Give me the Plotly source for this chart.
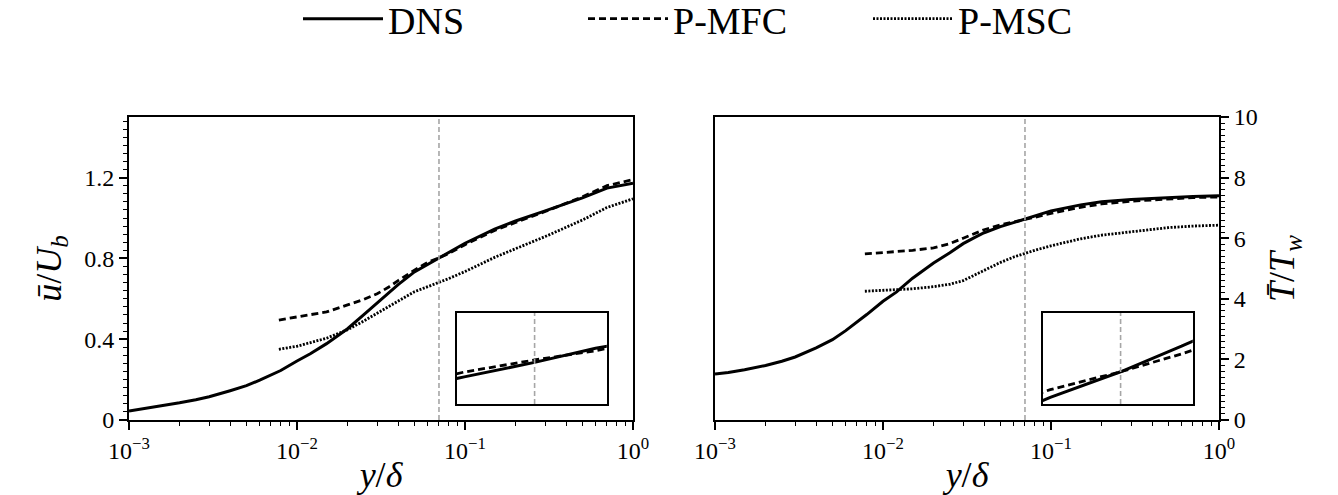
import math
import plotly.graph_objects as go

# Wall-normal coordinate grids
y_dns = [0.001, 0.0012, 0.0015, 0.002, 0.0025, 0.003, 0.004, 0.005, 0.006, 0.007,
         0.008, 0.01, 0.012, 0.015, 0.02, 0.025, 0.03, 0.035, 0.04, 0.05, 0.06,
         0.07, 0.08, 0.1, 0.15, 0.2, 0.3, 0.5, 0.7, 1.0]
y_model = [0.0078, 0.01, 0.015, 0.02, 0.025, 0.03, 0.035, 0.04, 0.05, 0.06, 0.07,
           0.08, 0.1, 0.15, 0.2, 0.3, 0.5, 0.7, 1.0]

# Mean streamwise velocity, u/U_b
u_dns = [0.045, 0.055, 0.068, 0.085, 0.1, 0.115, 0.145, 0.17, 0.197, 0.222,
         0.245, 0.292, 0.328, 0.378, 0.452, 0.522, 0.578, 0.627, 0.67, 0.733, 0.770,
         0.80, 0.829, 0.875, 0.945, 0.985, 1.035, 1.10, 1.148, 1.172]
u_mfc = [0.495, 0.51, 0.535, 0.57, 0.597, 0.625, 0.657, 0.69, 0.742, 0.78, 0.805,
         0.824, 0.868, 0.938, 0.978, 1.032, 1.105, 1.16, 1.19]
u_msc = [0.35, 0.365, 0.405, 0.447, 0.49, 0.528, 0.56, 0.59, 0.635, 0.66, 0.68,
         0.70, 0.735, 0.805, 0.848, 0.908, 0.99, 1.052, 1.095]

# Mean temperature, T/T_w
t_dns = [1.52, 1.57, 1.66, 1.8, 1.94, 2.08, 2.38, 2.65, 2.95, 3.22,
         3.48, 3.92, 4.22, 4.68, 5.18, 5.52, 5.82, 6.02, 6.18, 6.38, 6.52,
         6.62, 6.72, 6.9, 7.1, 7.2, 7.28, 7.35, 7.38, 7.4]
t_mfc = [5.48, 5.52, 5.6, 5.68, 5.82, 6.0, 6.15, 6.28, 6.44, 6.55, 6.62,
         6.69, 6.82, 7.02, 7.13, 7.22, 7.3, 7.34, 7.36]
t_msc = [4.25, 4.28, 4.33, 4.4, 4.48, 4.6, 4.78, 4.95, 5.2, 5.38, 5.5,
         5.6, 5.75, 5.98, 6.1, 6.22, 6.35, 6.4, 6.43]

series_names = ["DNS", "P-MFC", "P-MSC"]
y_interface = 0.07          # matching location marked by the grey line

# Axis ranges and ticks
u_range = [0.0, 1.5]
t_range = [0.0, 10.0]
inset_x = [0.059, 0.082]
inset_u = [0.714, 0.902]
inset_t = [6.494, 6.85]
u_ticks = [0, 0.4, 0.8, 1.2]
u_ticktext = ["0", "0.4", "0.8", "1.2"]
t_ticks = [0, 2, 4, 6, 8, 10]
x_ticks = [0.001, 0.01, 0.1, 1.0]
x_ticktext = ["10<sup>−3</sup>", "10<sup>−2</sup>", "10<sup>−1</sup>", "10<sup>0</sup>"]

# Minor tick positions: 2..9 within each decade, fine linear steps on y
x_minor = [k * 10.0 ** d for d in (-3, -2, -1) for k in range(2, 10)]
u_minor = [round(0.04 * i, 4) for i in range(0, 38) if i % 10 != 0]
t_minor = [round(0.2 * i, 4) for i in range(0, 51) if i % 10 != 0]

FONT = "Liberation Serif"
W, H = 1338, 495
# plot-area frame in pixels
L, R, T, B = 129, 1219, 117, 420
PW, PH = R - L, B - T
left_px = (129, 633)
right_px = (715, 1219)

def xdom(px):
    return [(px[0] - L) / PW, (px[1] - L) / PW]

def inset_dom(px):
    w = px[1] - px[0]
    return [(px[0] + 0.65 * w - L) / PW, (px[0] + 0.948 * w - L) / PW]

inset_ydom = [0.053, 0.353]

styles = [dict(color="black", width=3, dash="solid"),
          dict(color="black", width=2.8, dash="7px,4px"),
          dict(color="black", width=2.8, dash="2px,1.5px")]
grey = dict(color="#a6a6a6", width=1.6, dash="5px,3px")

fig = go.Figure()

def add_panel(xa, ya, ys, vals, show_legend, yr):
    for k, (xx, vv) in enumerate(zip(ys, vals)):
        fig.add_trace(go.Scatter(x=xx, y=vv, mode="lines", line=styles[k],
                                 name=series_names[k], showlegend=show_legend,
                                 xaxis=xa, yaxis=ya, hoverinfo="skip"))
    fig.add_trace(go.Scatter(x=[y_interface, y_interface], y=yr, mode="lines",
                             line=grey, showlegend=False, xaxis=xa, yaxis=ya,
                             hoverinfo="skip"))

model_x = [y_dns, y_model, y_model]
add_panel("x", "y", model_x, [u_dns, u_mfc, u_msc], True, u_range)
add_panel("x2", "y2", model_x, [t_dns, t_mfc, t_msc], False, t_range)
add_panel("x3", "y3", model_x, [u_dns, u_mfc, u_msc], False, inset_u)
add_panel("x4", "y4", model_x, [t_dns, t_mfc, t_msc], False, inset_t)

tickfont = dict(family=FONT, size=24, color="black")
titlefont = dict(family=FONT, size=36, color="black")

def minor_ticks(vals):
    return dict(tickmode="array", tickvals=vals, ticks="outside", ticklen=4,
                tickwidth=1.3, tickcolor="black", showgrid=False)

def xaxis(dom, anchor):
    return dict(type="log", domain=dom, anchor=anchor, range=[-3, 0],
                tickmode="array", tickvals=x_ticks, ticktext=x_ticktext,
                ticks="outside", ticklen=8, tickwidth=2, tickcolor="black",
                showline=True, linewidth=2, linecolor="black", mirror=True,
                showgrid=False, zeroline=False, tickfont=tickfont,
                automargin=False, minor=minor_ticks(x_minor),
                title=dict(text="<i>y</i>/<i>δ</i>", font=titlefont, standoff=2))

def yaxis(anchor, rng, ticks, minor, title, side, ticktext=None):
    d = dict(domain=[0, 1], anchor=anchor, side=side, range=rng,
             tickmode="array", tickvals=ticks, ticks="outside", ticklen=8,
             tickwidth=2, tickcolor="black", showline=True, linewidth=2,
             linecolor="black", mirror=True, showgrid=False, zeroline=False,
             tickfont=tickfont, automargin=False, minor=minor_ticks(minor),
             title=dict(text=title, font=titlefont, standoff=12))
    if ticktext is not None:
        d["ticktext"] = ticktext
    return d

def inset_axis(dom, anchor, rng, log):
    d = dict(domain=dom, anchor=anchor, range=rng, showticklabels=False,
             ticks="", showline=True, linewidth=1.8, linecolor="black",
             mirror=True, showgrid=False, zeroline=False, automargin=False)
    if log:
        d["type"] = "log"
    return d

inset_xr = [math.log10(inset_x[0]), math.log10(inset_x[1])]

fig.update_layout(
    width=W, height=H,
    margin=dict(l=L, r=W - R, t=T, b=H - B, autoexpand=False),
    paper_bgcolor="white", plot_bgcolor="white",
    xaxis=xaxis(xdom(left_px), "y"),
    xaxis2=xaxis(xdom(right_px), "y2"),
    yaxis=yaxis("x", u_range, u_ticks, u_minor,
                "<i>ū</i>/<i>U<sub>b</sub></i>", "left", u_ticktext),
    yaxis2=yaxis("x2", t_range, t_ticks, t_minor,
                 "<i>T̄</i>/<i>T<sub>w</sub></i>", "right"),
    xaxis3=inset_axis(inset_dom(left_px), "y3", inset_xr, True),
    yaxis3=inset_axis(inset_ydom, "x3", inset_u, False),
    xaxis4=inset_axis(inset_dom(right_px), "y4", inset_xr, True),
    yaxis4=inset_axis(inset_ydom, "x4", inset_t, False),
    legend=dict(orientation="h", x=(298 - L) / PW, xanchor="left",
                y=1 + (T - 19) / PH, yanchor="middle",
                font=dict(family=FONT, size=38, color="black"),
                itemwidth=80, entrywidth=190, entrywidthmode="pixels",
                bgcolor="rgba(0,0,0,0)"),
)

fig.write_html("out.html")
